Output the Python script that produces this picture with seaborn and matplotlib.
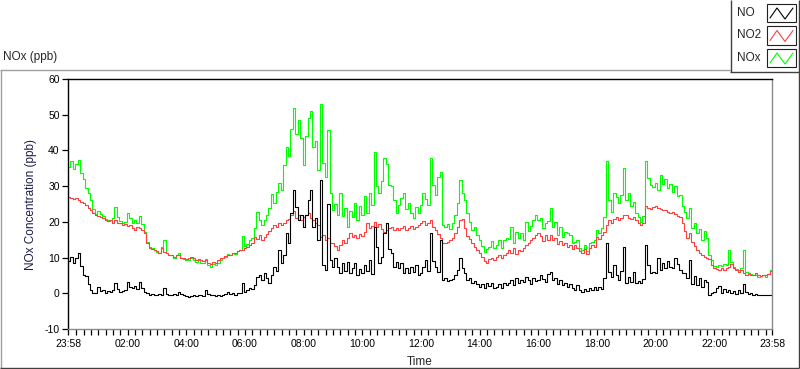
import numpy as np
import pandas as pd
import seaborn as sns
import matplotlib
matplotlib.use("Agg")
import matplotlib.pyplot as plt
from matplotlib.lines import Line2D
from matplotlib.patches import Rectangle

# ---------------- data (5-minute readings from 23:58 to 23:58) ----------------
no2_vals = [
    27.0, 26.8, 26.4, 26.6, 26.0, 25.6, 25.2, 24.6, 23.8, 23.2, 22.4, 22.0,
    21.6, 21.4, 21.0, 20.6, 20.2, 20.4, 19.8, 20.6, 19.6, 19.8, 19.2, 19.4,
    18.8, 19.2, 18.4, 17.6, 18.6, 18.2, 17.8, 16.8, 14.2, 12.8, 12.4, 12.0,
    11.8, 11.4, 12.6, 11.6, 11.2, 10.8, 10.6, 10.2, 10.6, 10.8, 10.0, 9.8,
    9.6, 9.8, 10.2, 9.8, 9.4, 9.6, 9.2, 9.0, 9.4, 8.6, 8.2, 8.8,
    8.6, 9.2, 9.8, 10.0, 10.4, 10.6, 10.8, 11.2, 11.4, 11.8, 12.0, 12.2,
    12.6, 13.0, 13.4, 14.0, 15.8, 15.2, 16.2, 15.0, 15.8, 16.6, 17.4, 18.4,
    19.0, 18.6, 19.8, 19.2, 19.8, 20.4, 20.8, 21.8, 23.0, 21.2, 21.8, 20.6,
    21.4, 22.0, 22.6, 21.0, 20.4, 19.6, 19.0, 15.8, 16.4, 14.8, 15.6, 14.2,
    14.0, 13.2, 12.2, 13.6, 14.8, 14.2, 15.6, 16.8, 15.8, 16.4, 15.6, 16.6,
    16.0, 17.2, 19.6, 18.2, 18.8, 20.0, 18.6, 19.4, 18.0, 17.2, 17.8, 18.4,
    18.6, 17.8, 18.4, 17.6, 18.2, 18.8, 17.6, 18.4, 18.8, 18.0, 18.6, 19.2,
    19.6, 20.2, 19.0, 19.6, 20.4, 18.6, 17.8, 16.6, 15.4, 14.2, 14.0, 14.4,
    14.8, 15.6, 16.8, 18.6, 20.4, 20.8, 18.4, 16.0, 15.2, 14.0, 13.0, 12.0,
    11.2, 10.2, 9.0, 8.4, 9.6, 10.0, 9.4, 10.2, 10.6, 9.8, 10.8, 11.2,
    12.0, 11.4, 12.6, 11.0, 12.2, 11.8, 12.8, 13.4, 14.0, 14.8, 15.6, 16.4,
    16.8, 16.0, 14.6, 16.2, 15.0, 16.4, 14.8, 15.6, 13.8, 14.6, 13.4, 14.2,
    13.0, 13.6, 12.4, 13.4, 12.6, 11.8, 11.2, 12.4, 11.0, 12.6, 13.4, 13.0,
    15.8, 15.2, 16.4, 17.2, 19.0, 20.4, 19.6, 20.8, 21.4, 20.6, 21.2, 21.8,
    21.8, 21.2, 20.8, 21.4, 20.4, 19.6, 19.0, 19.6, 24.4, 24.0, 23.6, 24.2,
    24.4, 23.8, 23.6, 23.2, 23.4, 22.8, 22.6, 22.8, 22.2, 21.6, 21.4, 19.8,
    17.4, 15.6, 16.8, 14.4, 13.2, 12.0, 11.2, 10.6, 10.2, 9.8, 9.6, 8.0,
    7.0, 6.8, 6.6, 7.2, 6.6, 7.0, 7.4, 8.2, 7.0, 6.4, 6.0, 6.4,
    5.6, 5.2, 5.4, 5.0, 5.2, 5.6, 5.0, 4.8, 5.2, 5.0, 5.4, 6.2,
    6.4,
]

nox_vals = [
    35.4, 37.0, 34.8, 36.2, 37.2, 33.6, 32.0, 29.6, 28.0, 26.2, 23.6, 22.2,
    23.0, 22.2, 21.6, 20.8, 20.4, 20.6, 21.0, 24.2, 21.4, 20.2, 19.6, 20.0,
    22.4, 21.0, 19.8, 20.6, 19.8, 21.6, 19.4, 17.2, 14.4, 13.0, 12.6, 12.2,
    11.6, 11.2, 13.0, 14.8, 11.4, 10.8, 10.6, 10.0, 10.6, 11.2, 9.8, 9.6,
    9.2, 9.4, 9.8, 9.2, 8.8, 9.2, 8.6, 8.4, 9.6, 8.0, 7.4, 8.2,
    8.0, 8.6, 9.2, 9.8, 10.2, 11.0, 10.6, 11.4, 11.0, 11.8, 12.2, 16.0,
    13.2, 13.8, 15.0, 15.6, 18.4, 22.8, 20.6, 19.0, 20.4, 22.0, 24.0, 27.8,
    25.2, 28.4, 30.8, 29.0, 35.8, 41.0, 38.4, 46.0, 52.0, 44.6, 48.4, 43.6,
    36.0, 44.0, 49.0, 51.0, 41.0, 42.6, 34.4, 53.0, 36.4, 32.6, 45.6, 28.0,
    23.4, 25.0, 22.0, 28.0, 21.6, 24.0, 18.6, 23.0, 21.4, 25.2, 20.6, 24.4,
    21.8, 27.2, 22.4, 28.0, 24.6, 39.6, 30.0, 28.0, 31.4, 37.8, 36.2, 30.4,
    30.0, 26.0, 22.4, 24.6, 26.8, 28.0, 23.6, 25.4, 22.4, 21.0, 24.2, 22.6,
    24.8, 28.0, 26.4, 24.8, 37.8, 30.2, 27.6, 32.6, 34.0, 19.0, 18.6, 19.4,
    18.0, 19.6, 22.0, 25.4, 31.6, 28.0, 26.0, 22.4, 20.0, 17.8, 18.6, 16.4,
    14.8, 13.2, 11.6, 12.4, 13.0, 14.6, 12.8, 13.4, 14.8, 12.6, 14.8, 15.6,
    15.2, 18.6, 14.0, 17.2, 15.6, 16.8, 15.0, 20.0, 17.4, 18.8, 20.4, 22.0,
    20.4, 21.2, 18.4, 19.6, 20.2, 24.0, 18.6, 20.0, 16.4, 18.6, 15.8, 17.2,
    16.8, 16.2, 14.0, 14.4, 15.0, 12.6, 12.0, 13.6, 11.8, 14.0, 14.4, 14.8,
    17.6, 17.0, 18.4, 21.4, 37.0, 26.0, 22.8, 28.2, 27.0, 25.2, 27.4, 35.0,
    26.0, 28.2, 24.4, 25.6, 22.6, 21.4, 20.0, 21.6, 37.0, 32.2, 30.4, 29.8,
    31.0, 28.8, 33.2, 30.6, 32.0, 29.6, 30.6, 28.4, 30.0, 27.2, 27.6, 24.4,
    22.8, 21.0, 23.8, 18.2, 19.6, 17.0, 18.0, 15.0, 17.4, 15.4, 10.6, 9.2,
    7.6, 7.4, 7.8, 7.6, 8.2, 7.8, 12.0, 8.8, 7.4, 6.8, 6.4, 7.0,
    12.0, 6.0, 5.6, 5.4, 5.0, 5.2, 4.6, 4.8, 5.0, 4.6, 5.4, 6.4,
    7.8,
]

no_vals = [
    9.0, 10.2, 8.6, 9.8, 11.2, 7.6, 5.2, 4.8, 2.6, 1.0, 0.2, 0.0,
    1.8, 0.6, 0.8, 0.2, 0.6, 0.4, 0.8, 2.8, 1.2, 0.4, 0.6, 0.8,
    3.2, 1.8, 1.4, 2.0, 1.2, 3.2, 1.6, 0.4, 0.2, -0.4, -0.2, -0.4,
    -0.4, -0.2, -0.4, 1.6, -0.2, -0.4, -0.6, -0.2, -0.4, 0.4, -0.2, -0.6,
    -0.8, -1.0, -0.8, -0.6, -0.8, -0.6, -0.4, -0.8, 0.8, -0.2, -0.4, -0.6,
    -0.8, -0.6, -0.8, -0.4, -0.2, 0.4, -0.2, 0.2, -0.4, 0.0, 0.2, 2.8,
    0.4, 0.8, 1.6, 1.2, 2.4, 4.6, 5.2, 3.8, 5.6, 4.2, 2.8, 5.0,
    7.4, 6.2, 12.0, 8.4, 10.6, 16.8, 14.0, 22.4, 29.0, 24.2, 20.4, 22.0,
    18.6, 22.0, 26.0, 28.8, 18.6, 21.0, 14.8, 31.6, 8.0, 6.4, 25.0, 9.2,
    7.4, 9.8, 7.4, 5.8, 8.4, 6.2, 8.8, 5.6, 7.2, 8.4, 5.2, 6.8,
    5.6, 7.8, 6.2, 9.2, 5.4, 18.6, 13.0, 8.6, 10.2, 16.8, 19.6, 12.4,
    11.2, 7.4, 8.8, 7.2, 8.4, 5.8, 7.0, 5.6, 7.4, 6.0, 7.8, 5.2,
    5.6, 7.4, 9.2, 6.2, 16.8, 9.0, 7.4, 6.0, 14.8, 3.6, 4.2, 3.4,
    3.6, 4.0, 5.2, 6.4, 10.0, 7.2, 5.6, 3.6, 4.2, 2.8, 3.4, 2.6,
    1.8, 2.6, 1.4, 2.8, 2.0, 2.8, 1.6, 1.8, 2.6, 1.4, 2.8, 2.2,
    3.0, 3.6, 2.4, 4.2, 2.8, 3.8, 3.2, 4.6, 3.8, 2.6, 4.4, 3.4,
    3.6, 5.2, 4.0, 3.2, 5.4, 6.0, 3.8, 4.4, 2.6, 3.8, 2.4, 3.0,
    1.8, 2.6, 1.4, 1.0, 2.2, 0.8, 0.4, 1.2, 0.6, 1.4, 0.8, 1.8,
    1.0, 1.8, 1.2, 4.2, 14.0, 6.0, 4.6, 8.0, 5.2, 3.8, 6.2, 13.0,
    2.8, 4.6, 3.2, 6.0, 2.8, 3.4, 2.8, 4.0, 13.4, 8.0, 5.6, 6.0,
    5.6, 9.8, 6.4, 8.6, 7.0, 9.0, 7.4, 7.0, 9.8, 8.2, 6.4, 5.6,
    5.6, 4.4, 9.2, 2.6, 4.8, 2.4, 4.2, 1.8, 3.6, 3.2, -0.6, 0.2,
    0.4, 1.4, 2.0, 0.2, 1.2, 0.4, 1.0, 0.2, 0.6, -0.2, 0.8, 0.2,
    2.6, 0.4, -0.2, 0.2, -0.4, -0.2, -0.6, -0.4, -0.6, -0.4, -0.6, -0.4,
    1.0,
]

series_names = ["NO", "NO2", "NOx"]
series_colors = ["#000000", "#ff4040", "#00ff00"]
tick_labels = ["23:58", "02:00", "04:00", "06:00", "08:00", "10:00", "12:00",
               "14:00", "16:00", "18:00", "20:00", "22:00", "23:58"]
tick_minutes = [0, 122, 242, 362, 482, 602, 722, 842, 962, 1082, 1202, 1322, 1440]
y_ticks = [-10, 0, 10, 20, 30, 40, 50, 60]

# ---------------- figure ----------------
sns.set_style("white")
plt.rcParams["font.family"] = ["Liberation Sans", "DejaVu Sans"]

W, H = 800, 369
minutes = np.arange(len(no_vals)) * 5

df = pd.DataFrame({
    "minute": np.concatenate([minutes, minutes, minutes]),
    "value": no_vals + no2_vals + nox_vals,
    "series": ["NO"] * len(no_vals) + ["NO2"] * len(no2_vals) + ["NOx"] * len(nox_vals),
})
palette = dict(zip(series_names, series_colors))

fig = plt.figure(figsize=(W / 100, H / 100), dpi=100)
fig.patch.set_facecolor("white")
ax = fig.add_axes([68 / W, 1 - 329 / H, 704 / W, 250 / H])

sns.lineplot(data=df, x="minute", y="value", hue="series",
             hue_order=["NOx", "NO2", "NO"], palette=palette,
             estimator=None, linewidth=0.8, legend=False, ax=ax,
             drawstyle="steps-post")

ax.set_xlim(0, 1440)
ax.set_ylim(-10, 60)
ax.set_xticks(tick_minutes)
ax.set_xticklabels(tick_labels)
minor = [m for m in range(17, 1440, 15) if m not in tick_minutes]
ax.set_xticks(minor, minor=True)
ax.set_yticks(y_ticks)
ax.set_yticklabels([str(v) for v in y_ticks])
ax.tick_params(axis="both", which="both", direction="out", length=4.5, width=0.9,
               color="black", labelsize=7.5, pad=1.5, labelcolor="black")
ax.tick_params(axis="x", which="both", bottom=True, pad=2.5)
ax.tick_params(axis="y", which="both", left=True)
ax.grid(False)

ax.set_xlabel("Time", fontsize=8.5, va="center")
ax.xaxis.set_label_coords(0.5, (329 - 362) / 250)
ax.set_ylabel("NOx Concentration (ppb)", fontsize=8.5, va="center", color="#1c1c48")
ax.yaxis.set_label_coords((31.5 - 68) / 704, 0.5)

for side, col in [("top", "black"), ("left", "black"), ("right", "#8a8a8a"), ("bottom", "#8a8a8a")]:
    ax.spines[side].set_visible(True)
    ax.spines[side].set_color(col)
    ax.spines[side].set_linewidth(1.0)


def P(x, y):
    return (x / W, 1 - y / H)


def fig_line(x0, y0, x1, y1, color, lw=1.0):
    (a, b), (c, d) = P(x0, y0), P(x1, y1)
    fig.add_artist(Line2D([a, c], [b, d], color=color, linewidth=lw,
                          transform=fig.transFigure, solid_capstyle="butt"))


# outer frame
fig_line(0, 69.5, 730, 69.5, "#a0a0a0")
fig_line(0.5, 69.5, 0.5, 368, "#a0a0a0")
fig_line(0, 368, 799, 368, "#404040")
fig_line(798.5, 0, 798.5, 368, "#404040")
# legend frame
fig_line(730.5, 0, 730.5, 72, "#404040")
fig_line(730, 72, 799, 72, "#404040")

fig.text(3 / W, 1 - 57 / H, "NOx (ppb)", fontsize=8.5, va="center", ha="left")

# legend entries
legend_y = [13, 35.5, 58]
for name, col, yc in zip(series_names, series_colors, legend_y):
    fig.text(737 / W, 1 - yc / H, name, fontsize=8.5, va="center", ha="left")
    bx0, by0, bw, bh = 767, yc - 9, 29, 18
    fig.add_artist(Rectangle(P(bx0, by0 + bh), bw / W, bh / H, transform=fig.transFigure,
                             facecolor="white", edgecolor="#202020", linewidth=0.8))
    zx = [bx0 + 3, bx0 + 10, bx0 + 18, bx0 + 26]
    zy = [by0 + 14, by0 + 4, by0 + 15, by0 + 4]
    fig.add_artist(Line2D([x / W for x in zx], [1 - y / H for y in zy], color=col,
                          linewidth=0.8, transform=fig.transFigure))

fig.savefig("out.png", dpi=100, facecolor="white")
